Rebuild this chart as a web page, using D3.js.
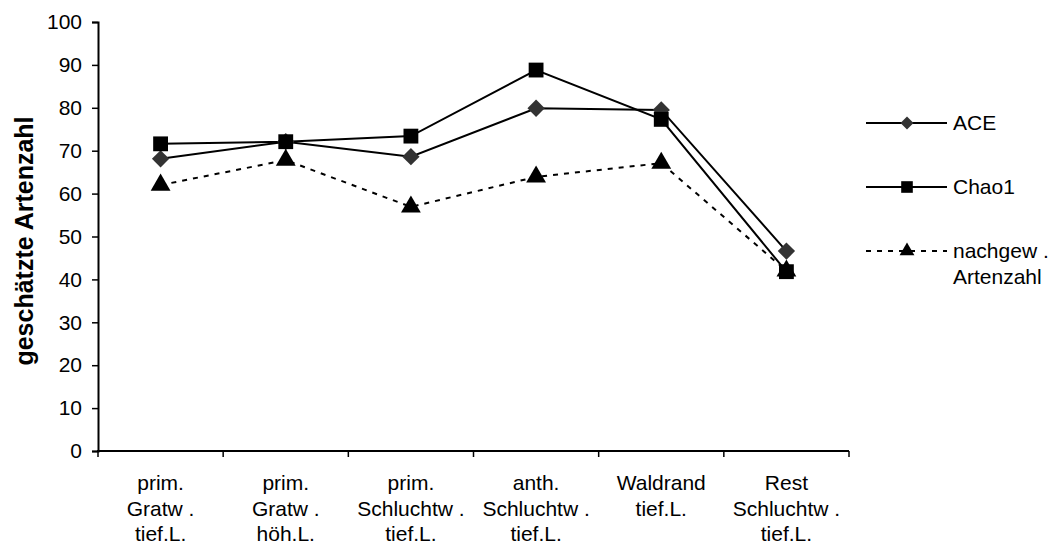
<!DOCTYPE html>
<html>
<head>
<meta charset="utf-8">
<script src="https://cdn.jsdelivr.net/npm/d3@7"></script>
<style>
  body { margin: 0; background: #fff; }
  svg { font-family: "Liberation Sans", Arial, sans-serif; }
</style>
</head>
<body>
<div id="chart"></div>
<script>
// categories (multi-line labels)
const categories = [
  ["prim.", "Gratw .", "tief.L."],
  ["prim.", "Gratw .", "höh.L."],
  ["prim.", "Schluchtw .", "tief.L."],
  ["anth.", "Schluchtw .", "tief.L."],
  ["Waldrand", "tief.L."],
  ["Rest", "Schluchtw .", "tief.L."]
];
const aceValues = [68.1, 72.1, 68.6, 79.9, 79.5, 46.6];
const chaoValues = [71.6, 72.1, 73.4, 88.8, 77.3, 41.8];
const observedValues = [62.0, 67.8, 56.9, 63.9, 67.1, 42.0];
const yTicks = [0, 10, 20, 30, 40, 50, 60, 70, 80, 90, 100];

// rotated square = Excel style diamond
const diamond = {
  draw(ctx, size) {
    const r = Math.sqrt(size / 2);
    ctx.moveTo(0, -r); ctx.lineTo(r, 0); ctx.lineTo(0, r); ctx.lineTo(-r, 0); ctx.closePath();
  }
};

const series = [
  { name: ["ACE"], values: aceValues, symbol: diamond, size: 150, fill: "#333", dash: null, legendY: 123, legSize: 85 },
  { name: ["Chao1"], values: chaoValues, symbol: d3.symbolSquare, size: 220, fill: "#000", dash: null, legendY: 187, legSize: 135 },
  { name: ["nachgew .", "Artenzahl"], values: observedValues, symbol: d3.symbolTriangle, size: 170, fill: "#000", dash: "5,6", legendY: 251, legSize: 95 }
];

const width = 1050, height = 548;
const margin = { left: 98, top: 22, right: 201, bottom: 97 };

const svg = d3.select("#chart").append("svg")
    .attr("width", width)
    .attr("height", height);

const x = d3.scaleBand()
    .domain(d3.range(categories.length))
    .range([margin.left, width - margin.right]);

const y = d3.scaleLinear()
    .domain([0, 100])
    .range([height - margin.bottom, margin.top]);

// y axis
const yAxis = svg.append("g")
    .attr("transform", `translate(${margin.left},0)`)
    .call(d3.axisLeft(y).tickValues(yTicks).tickSize(6).tickPadding(10));
yAxis.select(".domain").attr("stroke", "#000").attr("stroke-width", 2);
yAxis.selectAll(".tick line").attr("stroke-width", 1.5);
yAxis.selectAll(".tick text").style("font-size", "21px").attr("fill", "#000");

// x axis: ticks at category boundaries
const xAxisG = svg.append("g")
    .attr("transform", `translate(0,${y(0)})`);
xAxisG.append("line")
    .attr("x1", margin.left - 1).attr("x2", width - margin.right)
    .attr("stroke", "#000").attr("stroke-width", 2);
const bounds = d3.range(categories.length + 1).map(i => i < categories.length ? x(i) : x(i - 1) + x.bandwidth());
xAxisG.selectAll(".xtick")
  .data(bounds)
  .join("line")
    .attr("x1", d => d).attr("x2", d => d)
    .attr("y1", 0).attr("y2", 6)
    .attr("stroke", "#000").attr("stroke-width", 1.5);

const xLabels = xAxisG.selectAll(".xlabel")
  .data(categories)
  .join("text")
    .attr("text-anchor", "middle")
    .attr("x", (d, i) => x(i) + x.bandwidth() / 2)
    .style("font-size", "21px");
xLabels.selectAll("tspan")
  .data(d => d)
  .join("tspan")
    .attr("x", function() { return d3.select(this.parentNode).attr("x"); })
    .attr("y", (d, i) => 39 + i * 25.5)
    .text(d => d);

// y axis title
svg.append("text")
    .attr("transform", `translate(33,241) rotate(-90)`)
    .attr("text-anchor", "middle")
    .style("font-size", "25px")
    .style("font-weight", "bold")
    .text("geschätzte Artenzahl");

const cx = i => x(i) + x.bandwidth() / 2;
const line = d3.line().x((d, i) => cx(i)).y(d => y(d));

// lines & markers
series.forEach(s => {
  svg.append("path")
      .datum(s.values)
      .attr("fill", "none")
      .attr("stroke", "#000")
      .attr("stroke-width", 2)
      .attr("stroke-dasharray", s.dash)
      .attr("d", line);
});
series.forEach(s => {
  svg.append("g").selectAll("path")
    .data(s.values)
    .join("path")
      .attr("transform", (d, i) => `translate(${cx(i)},${y(d)})`)
      .attr("d", d3.symbol().type(s.symbol).size(s.size))
      .attr("fill", s.fill);
});

// legend
const legend = svg.append("g");
series.forEach(s => {
  const g = legend.append("g").attr("transform", `translate(866,${s.legendY})`);
  g.append("line")
      .attr("x1", 0).attr("x2", 81)
      .attr("stroke", "#000").attr("stroke-width", 2)
      .attr("stroke-dasharray", s.dash);
  g.append("path")
      .attr("transform", "translate(41,0)")
      .attr("d", d3.symbol().type(s.symbol).size(s.legSize))
      .attr("fill", s.fill);
  const t = g.append("text").style("font-size", "21px");
  s.name.forEach((n, i) => {
    t.append("tspan").attr("x", 87).attr("y", 7 + i * 26).text(n);
  });
});
</script>
</body>
</html>
